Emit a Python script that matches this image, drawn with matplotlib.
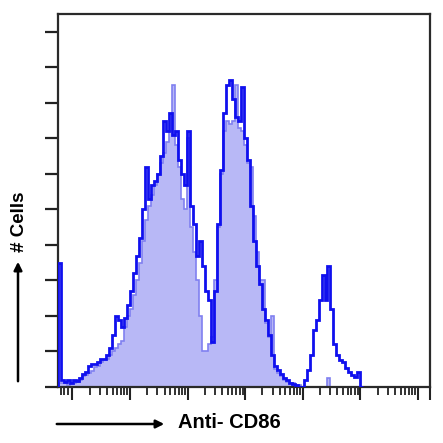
import numpy as np
import matplotlib.pyplot as plt

# histogram counts per channel (x in log10 units, left edge at -0.25, 3px bins)
x_start = -0.25
bin_w = 0.052

cd86 = [35, 2, 1.5, 2, 1, 2, 1.7, 2.5, 3.7, 4.2,
        6, 6.5, 6.5, 7, 8, 8, 9, 11, 14.6, 20,
        19, 17, 19.5, 23, 27, 32, 37, 42, 50, 62,
        53, 57, 58, 60, 65, 75, 72, 77, 71, 72,
        64, 60, 57, 72, 51, 46, 37, 41, 34, 27,
        24.5, 12.7, 27, 46, 61, 77, 85, 86.5, 81, 76,
        75, 84.5, 70, 64, 51, 41, 34, 29, 22, 19,
        14.6, 9, 6, 4.8, 3.7, 2.5, 2, 1.1, 0.8, 0.6,
        0, 0, 2, 4.8, 9, 16, 19, 24.5, 31.5, 24.5,
        34, 22, 12, 9, 7.6, 7, 5.4, 4.2, 3.4, 2.8,
        4.2, 0]

isotype = [1, 1, 1, 0.5, 1, 1, 1.5, 2, 3, 3.5,
           4, 4.5, 5.5, 6, 7, 7.5, 8, 9, 10, 11,
           12, 13, 17, 20, 22, 26, 30, 35, 41, 47,
           51, 54, 57, 60, 63, 66, 69, 72, 85, 68,
           62, 53, 50, 70, 45, 38, 30, 20, 10, 10,
           12, 14, 30, 45, 60, 72, 75, 74, 75, 85,
           73, 72, 68, 63, 62, 48, 38, 30, 30, 18,
           14, 20, 5, 4, 3, 2, 1.5, 1, 1, 0.5,
           0.5, 0, 0, 0, 0, 0, 0, 0, 0, 0,
           2.5, 0, 0, 0, 0, 0, 0, 0, 0, 0,
           0, 0]

edges_a = x_start + bin_w * np.arange(len(cd86) + 1)
edges_b = x_start + bin_w * np.arange(len(isotype) + 1)

fig = plt.figure(figsize=(4.43, 4.43), dpi=100)
ax = fig.add_axes([58/443, 56/443, 372/443, 373/443])

ax.stairs(isotype, edges_b, fill=True, color='#b8b8f6', zorder=1)
ax.stairs(isotype, edges_b, color='#8080f0', lw=1.2, zorder=2)
ax.stairs(cd86, edges_a, color='#1010ee', lw=2, zorder=3)

ax.set_xlim(-0.25, 6.21)
ax.set_ylim(0, 105)

# y ticks
ax.set_yticks(np.arange(0, 101, 10))
ax.set_yticklabels([])
ax.tick_params(axis='y', direction='out', length=9.4, width=1.6, color='#222222')

# x ticks: decades + minor log ticks
major = [0, 1, 2, 3, 4, 5, 6, 6.21]
minor = [d + np.log10(k) for d in range(0, 6) for k in range(2, 10)]
minor += [-0.2, -0.15, -0.08]
ax.set_xticks(major)
ax.set_xticks(minor, minor=True)
ax.set_xticklabels([])
ax.tick_params(axis='x', which='major', direction='out', length=9, width=1.5, color='#222222')
ax.tick_params(axis='x', which='minor', direction='out', length=5.5, width=1.3, color='#222222')

for s in ax.spines.values():
    s.set_linewidth(1.6)
    s.set_color('#2a2a2a')

# axis labels with arrows
fig.text(229/443, 1 - 423/443, 'Anti- CD86', fontsize=14.5, fontweight='bold',
         family='Liberation Sans', ha='center', va='center')
ax.annotate('', xy=(167/443, 1 - 424/443), xytext=(54/443, 1 - 424/443),
            xycoords='figure fraction',
            arrowprops=dict(arrowstyle='-|>', color='black', lw=1.8, mutation_scale=12))
fig.text(19/443, 1 - 222/443, '# Cells', fontsize=13.5, fontweight='bold',
         family='Liberation Sans', ha='center', va='center', rotation=90)
ax.annotate('', xy=(18/443, 1 - 259/443), xytext=(18/443, 1 - 384/443),
            xycoords='figure fraction',
            arrowprops=dict(arrowstyle='-|>', color='black', lw=1.8, mutation_scale=12))

fig.savefig('out.png', dpi=100)
